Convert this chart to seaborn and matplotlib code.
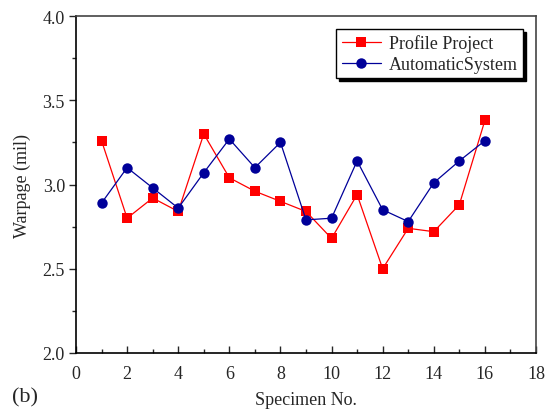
import matplotlib
matplotlib.use("Agg")
import matplotlib.pyplot as plt
import seaborn as sns
import pandas as pd
from matplotlib.ticker import MultipleLocator

specimen = list(range(1, 17))
profile_project = [3.26, 2.80, 2.92, 2.84, 3.30, 3.04, 2.96, 2.90, 2.84, 2.68, 2.94, 2.50, 2.74, 2.72, 2.88, 3.38]
automatic_system = [2.89, 3.10, 2.98, 2.86, 3.07, 3.27, 3.10, 3.25, 2.79, 2.80, 3.14, 2.85, 2.78, 3.01, 3.14, 3.26]

df = pd.DataFrame({
    "Specimen": specimen * 2,
    "Warpage": profile_project + automatic_system,
    "Series": ["Profile Project"] * 16 + ["AutomaticSystem"] * 16,
})

sns.set_style("ticks")
FONT = ["Liberation Serif", "DejaVu Serif"]
plt.rcParams["font.family"] = FONT

fig = plt.figure(figsize=(5.56, 4.10), dpi=100)
ax = fig.add_axes([0.1367, 0.1366, 0.8273, 0.8219])

sns.lineplot(data=df, x="Specimen", y="Warpage", hue="Series", style="Series",
             palette={"Profile Project": "#ff0000", "AutomaticSystem": "#000099"},
             markers={"Profile Project": "s", "AutomaticSystem": "o"},
             dashes=False, markersize=7.5, linewidth=0.9, markeredgewidth=0,
             ax=ax)

ax.set_xlim(0, 18)
ax.set_ylim(2.0, 4.0)
ax.xaxis.set_major_locator(MultipleLocator(2))
ax.xaxis.set_minor_locator(MultipleLocator(1))
ax.yaxis.set_minor_locator(MultipleLocator(0.25))
ax.set_yticks([2.0, 2.5, 3.0, 3.5, 4.0])
ax.set_yticklabels(["2.0", "2.5", "3.0", "3.5", "4.0"])
ax.tick_params(axis="x", which="major", direction="in", length=5, width=1, labelsize=13, pad=9)
ax.tick_params(axis="x", which="minor", direction="in", length=3, width=1)
ax.tick_params(axis="y", which="major", direction="out", length=5, width=1, labelsize=13, pad=3)
ax.tick_params(axis="y", which="minor", direction="out", length=3, width=1)
for s in ax.spines.values():
    s.set_linewidth(1.2)
    s.set_color("black")
ax.spines["top"].set_color("#444444")
ax.spines["right"].set_color("#444444")

ax.set_xlabel("Specimen No.", fontsize=13, labelpad=6)
ax.set_ylabel("Warpage (mil)", fontsize=13, labelpad=8)

leg = ax.legend(loc="upper right", bbox_to_anchor=(0.9717, 0.9614), fontsize=13,
                frameon=True, fancybox=False, shadow={"color": "black", "alpha": 1},
                handlelength=2.2, borderpad=0.3, labelspacing=0.2, handletextpad=0.4,
                borderaxespad=0)
leg.get_frame().set_edgecolor("black")
leg.get_frame().set_linewidth(1.0)

fig.text(0.022, 0.018, "(b)", fontsize=16)

fig.savefig("out.png", dpi=100)
